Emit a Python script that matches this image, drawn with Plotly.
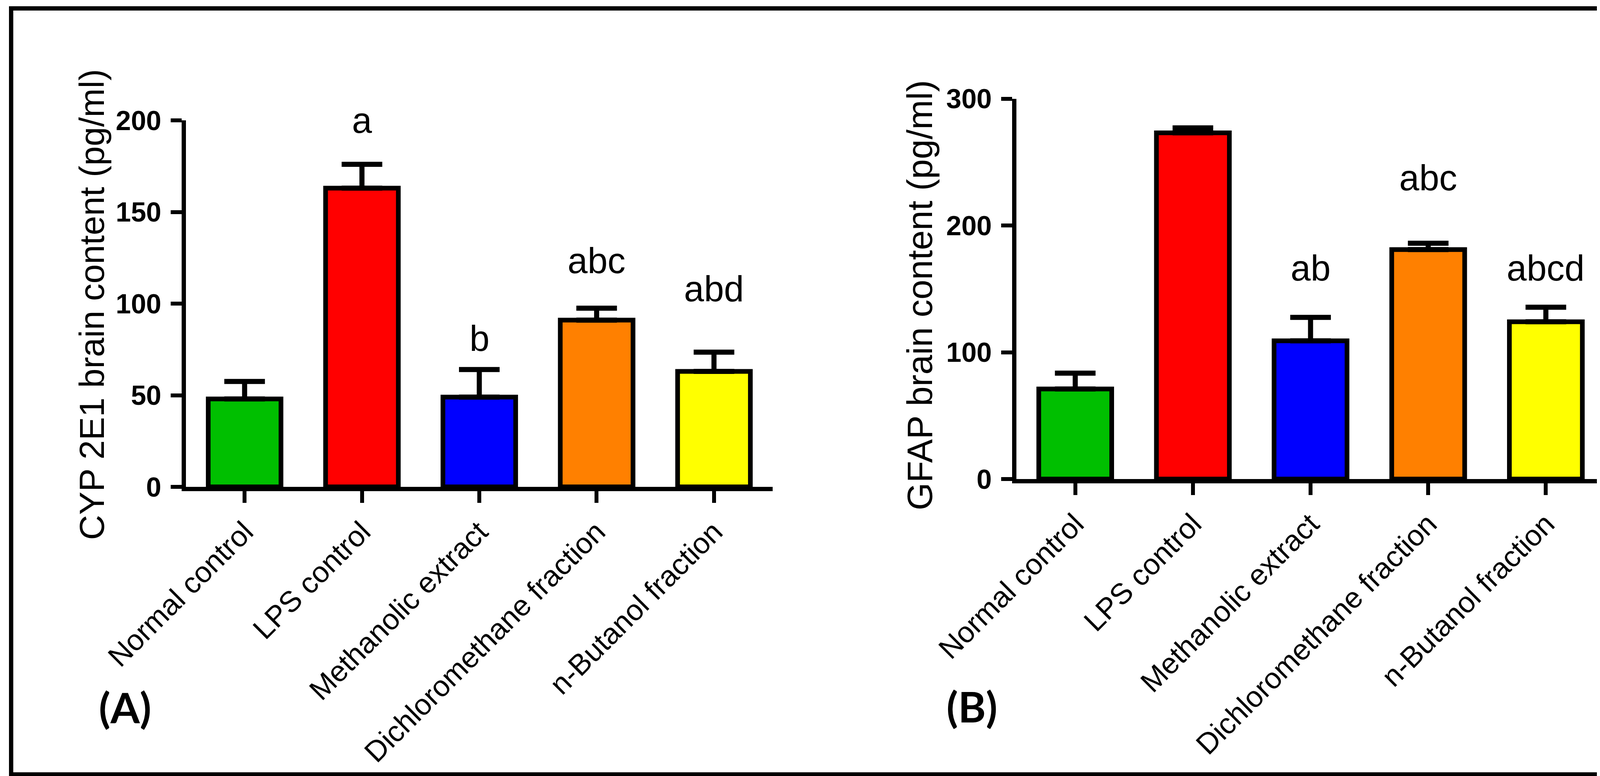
import plotly.graph_objects as go

categories = ["Normal control", "LPS control", "Methanolic extract",
              "Dichloromethane fraction", "n-Butanol fraction"]
bar_colors = ["#00BF00", "#FF0000", "#0000FF", "#FF8000", "#FFFF00"]

# Panel A: CYP 2E1
cyp_mean = [48, 163, 49, 91, 63]
cyp_sem = [9.5, 13, 15, 6.5, 10.5]
cyp_letters = ["", "a", "b", "abc", "abd"]
cyp_letter_y = [0, 200, 81, 123.5, 108]
cyp_ticks = [0, 50, 100, 150, 200]

# Panel B: GFAP
gfap_mean = [71, 273, 109, 181, 124]
gfap_sem = [12.5, 4, 18.5, 5, 11.5]
gfap_letters = ["", "a", "ab", "abc", "abcd"]
gfap_letter_y = [0, 304, 166.5, 237.5, 166.5]
gfap_ticks = [0, 100, 200, 300]

W, H = 4320, 1986
FONT = "Liberation Sans, Arial, sans-serif"

fig = go.Figure()

def add_panel(mean, sem, xa, ya):
    fig.add_trace(go.Bar(
        x=categories, y=mean, xaxis=xa, yaxis=ya,
        width=0.62,
        marker=dict(color=bar_colors, line=dict(color="black", width=12)),
        error_y=dict(type="data", symmetric=False, array=sem,
                     arrayminus=[0] * len(sem), color="black",
                     thickness=13, width=52),
        showlegend=False, cliponaxis=False,
    ))

add_panel(cyp_mean, cyp_sem, "x", "y")
add_panel(gfap_mean, gfap_sem, "x2", "y2")

xcommon = dict(showline=True, linecolor="black", linewidth=11, ticks="outside",
               ticklen=30, tickwidth=10, tickcolor="black", tickangle=-45,
               tickfont=dict(family=FONT, size=75, color="black"),
               showgrid=False, zeroline=False, range=[-0.5, 4.5],
               automargin=False)
ycommon = dict(showline=True, linecolor="black", linewidth=11, ticks="outside",
               ticklen=28, tickwidth=10, tickcolor="black",
               tickfont=dict(family=FONT, size=70, color="black", weight="bold"),
               showgrid=False, zeroline=False, ticklabelstandoff=10,
               automargin=False)

fig.update_layout(
    template="none",
    width=W, height=H,
    margin=dict(l=0, r=0, t=0, b=0, pad=0, autoexpand=False),
    paper_bgcolor="white", plot_bgcolor="white",
    xaxis=dict(domain=[468 / W, 1970 / W], anchor="y", **xcommon),
    yaxis=dict(domain=[1 - 1238 / H, 1 - 300 / H], anchor="x",
               range=[0, 200], tickvals=cyp_ticks, **ycommon),
    xaxis2=dict(domain=[2594 / W, 4100 / W], anchor="y2", **xcommon),
    yaxis2=dict(domain=[1 - 1218 / H, 1 - 244.5 / H], anchor="x2",
                range=[0, 300], tickvals=gfap_ticks, **ycommon),
)

annots = []
for cat, lab, yy in zip(categories, cyp_letters, cyp_letter_y):
    if lab:
        annots.append(dict(x=cat, y=yy, xref="x", yref="y", text=lab,
                           showarrow=False, yanchor="middle",
                           font=dict(family=FONT, size=92, color="black")))
for cat, lab, yy in zip(categories, gfap_letters, gfap_letter_y):
    if lab:
        annots.append(dict(x=cat, y=yy, xref="x2", yref="y2", text=lab,
                           showarrow=False, yanchor="middle",
                           font=dict(family=FONT, size=92, color="black")))

annots.append(dict(x=227 / W, y=1 - 772 / H, xref="paper", yref="paper",
                   text="CYP 2E1 brain content (pg/ml)", textangle=-90,
                   showarrow=False, xanchor="center", yanchor="middle",
                   font=dict(family=FONT, size=89, color="black")))
annots.append(dict(x=2346 / W, y=1 - 748 / H, xref="paper", yref="paper",
                   text="GFAP brain content (pg/ml)", textangle=-90,
                   showarrow=False, xanchor="center", yanchor="middle",
                   font=dict(family=FONT, size=91, color="black")))
annots.append(dict(x=312 / W, y=1 - 1801 / H, xref="paper", yref="paper",
                   text="(A)", showarrow=False, xanchor="center", yanchor="middle",
                   font=dict(family="Lato, sans-serif", size=108, color="black",
                             weight="bold")))
annots.append(dict(x=2480 / W, y=1 - 1799 / H, xref="paper", yref="paper",
                   text="(B)", showarrow=False, xanchor="center", yanchor="middle",
                   font=dict(family="Lato, sans-serif", size=108, color="black",
                             weight="bold")))
fig.update_layout(annotations=annots)

fig.add_shape(type="rect", xref="paper", yref="paper",
              x0=20.5 / W, x1=4300.5 / W, y0=1 - 1974 / H, y1=1 - 13.5 / H,
              line=dict(color="black", width=11), fillcolor="rgba(0,0,0,0)")

fig.write_html("out.html")
